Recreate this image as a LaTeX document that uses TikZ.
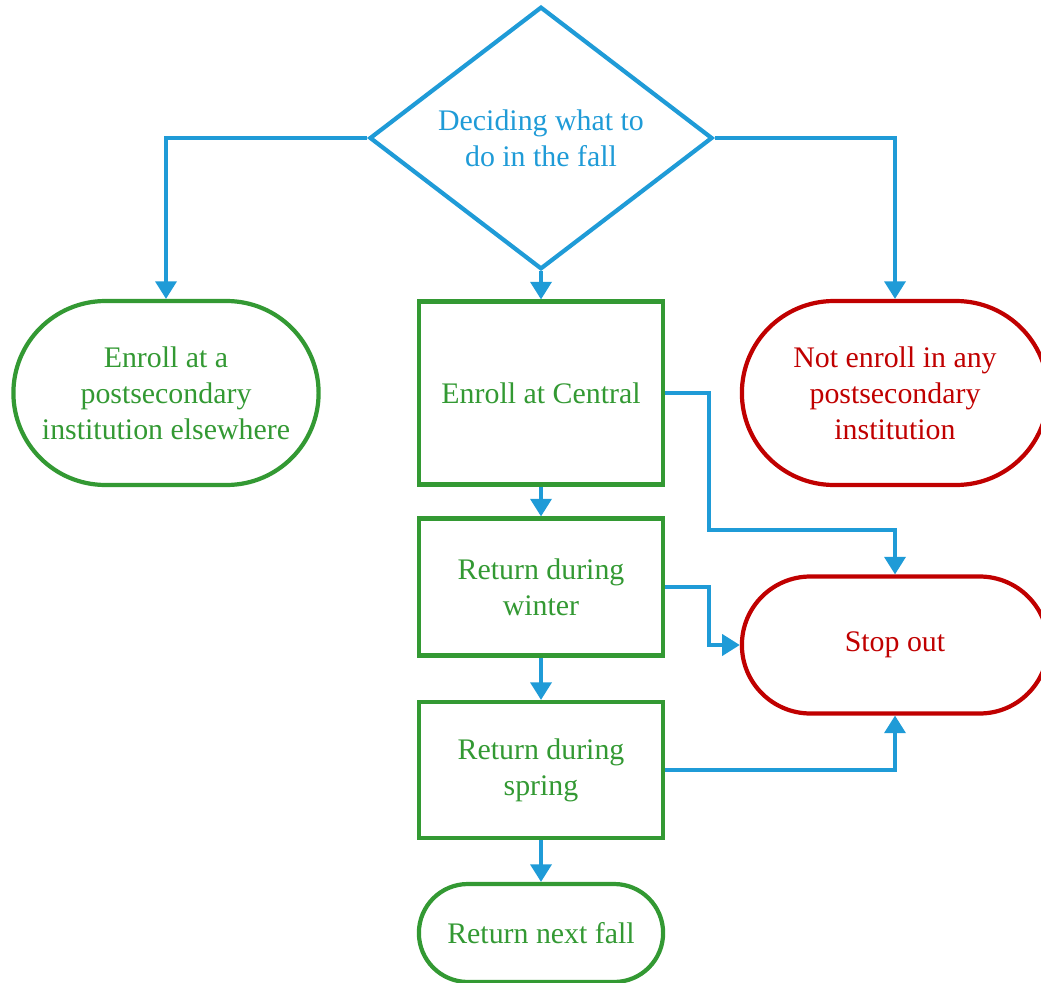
\documentclass[tikz,border=0pt]{standalone}
\usepackage{fontspec}
\setmainfont{Liberation Serif}
\usepackage{xcolor}
\usetikzlibrary{shapes.geometric, shapes.misc, arrows.meta}

\definecolor{flowblue}{RGB}{31,155,215}
\definecolor{flowgreen}{RGB}{51,153,51}
\definecolor{flowred}{RGB}{192,0,0}

\tikzset{
  decision/.style={diamond, draw=flowblue, text=flowblue, line width=2.4pt, inner sep=0pt,
    minimum width=6.86cm, minimum height=5.12cm, align=center},
  stepbox/.style={rectangle, draw=flowgreen, text=flowgreen, line width=2.4pt,
    minimum width=4.88cm, align=center},
  goodend/.style={rounded rectangle, draw=flowgreen, text=flowgreen, line width=2.4pt, align=center},
  badend/.style={rounded rectangle, draw=flowred, text=flowred, line width=2.4pt, align=center},
  conn/.style={draw=flowblue, line width=1.9pt, -{Triangle[length=10pt,width=12pt]}}
}

\begin{document}
\begin{tikzpicture}[x=0.02cm, y=-0.02cm, font=\fontsize{17}{20.4}\selectfont]
\useasboundingbox (0,0) rectangle (1041,983);

\node[decision] (dec) at (541,138) {Deciding what to\\do in the fall};
\node[goodend, minimum width=6.34cm, minimum height=3.68cm] (else) at (166,393) {Enroll at a\\postsecondary\\institution elsewhere};
\node[stepbox, minimum height=3.66cm] (central) at (541,393) {Enroll at Central};
\node[badend, minimum width=6.36cm, minimum height=3.68cm] (none) at (895,393) {Not enroll in any\\postsecondary\\institution};
\node[stepbox, minimum height=2.74cm] (winter) at (541,587) {Return during\\winter};
\node[badend, minimum width=6.36cm, minimum height=2.74cm] (stop) at (895,645) {Stop out};
\node[stepbox, minimum height=2.72cm] (spring) at (541,770) {Return during\\spring};
\node[goodend, minimum width=5.12cm, minimum height=1.96cm] (next) at (541,933) {Return next fall};

\coordinate (cbend) at (709,530);
\coordinate (wbend) at (709,587);

\draw[conn] (dec.west) -| (else.north);
\draw[conn] (dec.east) -| (none.north);
\draw[conn] (dec.south) -- (central.north);
\draw[conn] (central.east) -| (cbend) -| (stop.north);
\draw[conn] (central.south) -- (winter.north);
\draw[conn] (winter.east) -- (wbend) |- (stop.west);
\draw[conn] (winter.south) -- (spring.north);
\draw[conn] (spring.east) -| (stop.south);
\draw[conn] (spring.south) -- (next.north);

\end{tikzpicture}
\end{document}
